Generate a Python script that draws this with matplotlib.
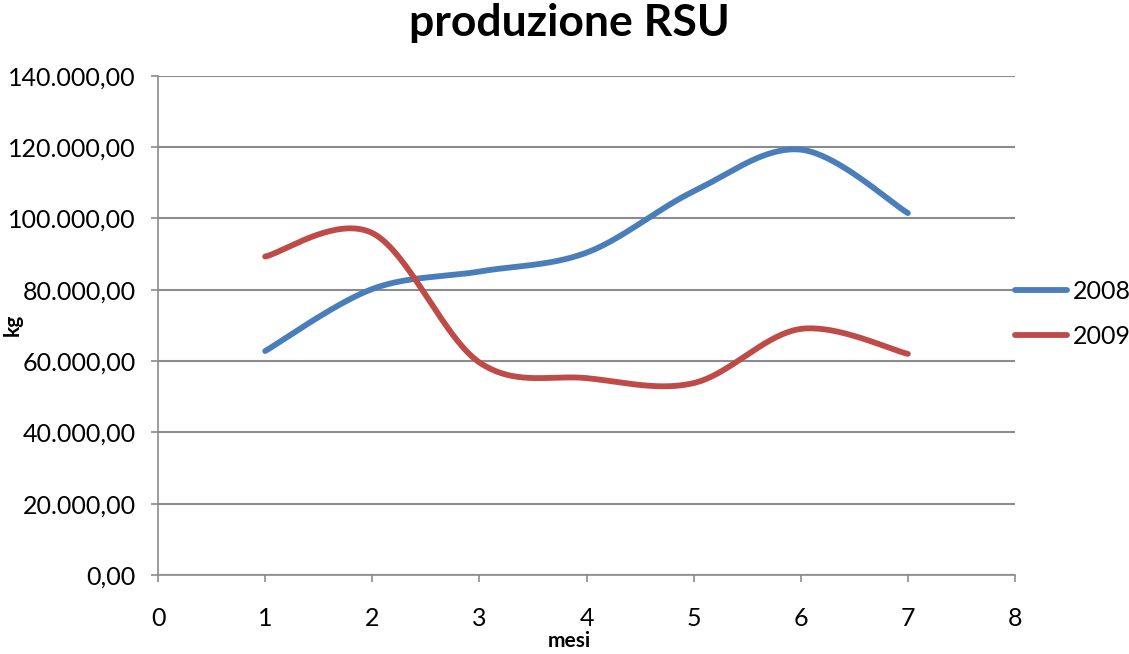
import numpy as np
import matplotlib
matplotlib.use("Agg")
from matplotlib import pyplot as plt
from matplotlib.ticker import FuncFormatter

plt.rcParams['font.family'] = ['Lato', 'DejaVu Sans']

# data
mesi = [1, 2, 3, 4, 5, 6, 7]
rsu_2008 = [62800, 80200, 85100, 90400, 107600, 119300, 101500]
rsu_2009 = [89300, 95900, 59600, 55200, 53800, 69000, 62000]


def smooth(xs, ys, n=40):
    # excel-like smoothed line: cubic bezier, control points from neighbours
    p = np.column_stack([xs, ys]).astype(float)
    out = []
    for i in range(len(p) - 1):
        p0 = p[i - 1] if i > 0 else p[i]
        p3 = p[i + 2] if i + 2 < len(p) else p[i + 1]
        c1 = p[i] + (p[i + 1] - p0) / 6
        c2 = p[i + 1] - (p3 - p[i]) / 6
        t = np.linspace(0, 1, n)[:, None]
        seg = ((1 - t) ** 3 * p[i] + 3 * (1 - t) ** 2 * t * c1
               + 3 * (1 - t) * t ** 2 * c2 + t ** 3 * p[i + 1])
        out.append(seg if i == 0 else seg[1:])
    out = np.vstack(out)
    return out[:, 0], out[:, 1]


fig = plt.figure(figsize=(11.29, 6.54), dpi=100)
ax = fig.add_axes([0.140, 0.121, 0.759, 0.763])

x8, y8 = smooth(mesi, rsu_2008)
x9, y9 = smooth(mesi, rsu_2009)
ax.plot(x8, y8, color='#4a7ebb', lw=4.2, solid_capstyle='round', label='2008')
ax.plot(x9, y9, color='#be4b48', lw=4.2, solid_capstyle='round', label='2009')

ax.set_xlim(0, 8)
ax.set_ylim(0, 140000)
ax.set_xticks(range(0, 9))
ax.set_yticks(range(0, 140001, 20000))
ax.yaxis.set_major_formatter(FuncFormatter(
    lambda v, _: f"{v:,.2f}".replace(',', 'X').replace('.', ',').replace('X', '.')))
ax.grid(axis='y', color='#8c8c8c', lw=1.5)
ax.set_axisbelow(True)
for s in ['top', 'right']:
    ax.spines[s].set_visible(False)
for s in ['left', 'bottom']:
    ax.spines[s].set_color('#8c8c8c')
    ax.spines[s].set_linewidth(1.2)
ax.tick_params(axis='both', direction='out', length=5, width=1.2, color='#8c8c8c',
               labelsize=18)
ax.tick_params(axis='y', pad=11)
ax.tick_params(axis='x', pad=18)

fig.text(0.504, 0.965, 'produzione RSU', fontsize=32, fontweight='bold',
         ha='center', va='center')
fig.text(0.504, 0.02, 'mesi', fontsize=15, fontweight='bold', ha='center', va='center')
fig.text(0.011, 0.503, 'kg', fontsize=15, fontweight='bold', rotation=90,
         ha='center', va='center')

fig.legend(loc='center left', bbox_to_anchor=(0.899, 0.52), frameon=False,
           fontsize=18, handlelength=2.1, handletextpad=0.2, labelspacing=0.9,
           borderpad=0, borderaxespad=0)

fig.savefig('out.png', dpi=100)
